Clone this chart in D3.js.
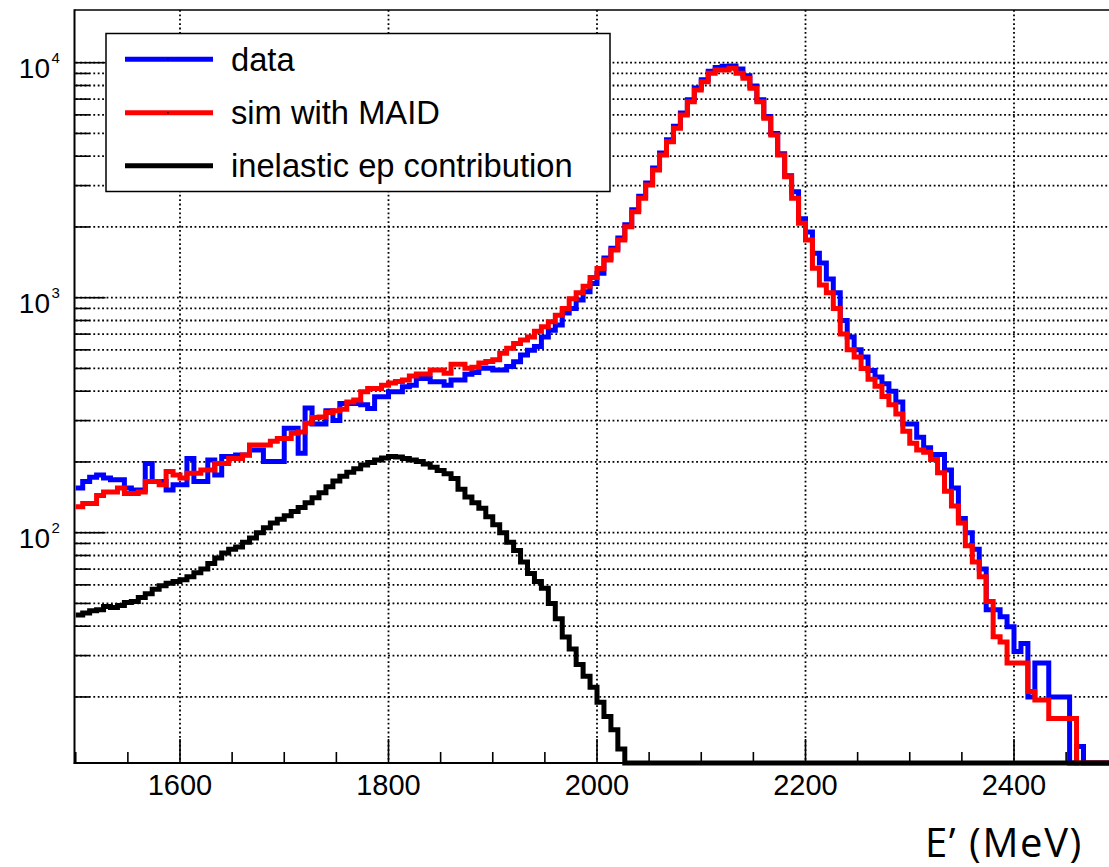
<!DOCTYPE html>
<html>
<head>
<meta charset="utf-8">
<script src="https://cdn.jsdelivr.net/npm/d3@7"></script>
<style>
  html, body { margin: 0; padding: 0; background: #fff; }
  svg { display: block; }
</style>
</head>
<body>
<svg id="chart" width="1109" height="867"></svg>
<script>
// ---------------- data ----------------
const xMin = 1500, xMax = 2500, nBins = 150;
const xTickValues = [1600, 1800, 2000, 2200, 2400];
const xTickLabels = ["1600", "1800", "2000", "2200", "2400"];
const yMajorTicks = [100, 1000, 10000];
const yMajorExponents = ["2", "3", "4"];
const legendLabels = ["data", "sim with MAID", "inelastic ep contribution"];
const xTitle = "E\u2019 (MeV)";

// blue: measured data (counts per bin)
const dataCounts = [
  155,165,172,176,171,168,168,155,152,152,
  197,165,165,152,160,160,207,165,165,204,
  176,211,211,214,214,225,225,201,201,201,
  278,278,218,339,290,290,330,300,355,355,
  355,350,338,379,379,398,398,418,424,453,
  453,439,439,424,446,446,472,480,501,501,
  493,493,510,534,570,598,620,680,727,765,
  860,900,978,1060,1150,1270,1475,1625,1795,2045,
  2370,2700,3080,3565,4130,4700,5360,6110,6960,7800,
  8470,9200,9550,9650,9680,9400,8800,7950,6950,5900,
  5000,4100,3300,2825,2170,1905,1546,1405,1200,1050,
  800,680,600,560,490,460,430,400,360,290,
  290,255,230,215,215,185,155,115,100,85,
  70,47,47,43.9,39.8,31.2,33.8,20,27.9,27.9,
  20,20,20,0,12.3,0,0,0,0,0
];
// red: simulation with MAID
const simCounts = [
  129,133,133,144,149,149,155,147,147,149,
  165,165,160,182,176,171,179,179,185,185,
  197,197,207,207,214,236,236,236,245,252,
  252,265,268,292,309,311,325,330,335,360,
  367,398,411,411,424,434,440,446,464,473,
  473,493,493,477,521,521,501,506,527,535,
  544,580,609,639,661,680,720,753,791,843,
  900,990,1050,1120,1220,1330,1447,1596,1760,2005,
  2323,2649,3017,3495,4048,4611,5259,5991,6823,7652,
  8301,9015,9310,9310,9467,9015,8582,7781,6823,5801,
  4925,4048,3272,2649,2073,1760,1334,1132,1050,900,
  700,600,560,500,450,420,380,350,320,270,
  240,225,220,205,180,150,130,110,88,75,
  65,50.9,36.1,34.3,27.9,27.9,27.9,21.1,19.4,19.4,
  16.2,16.2,16.2,16.2,0,0,0,0,0,0
];
// black: inelastic ep contribution
const inelCounts = [
  44.7,45.5,46.5,47,48.5,48,49,50.5,51,53,
  55,57.5,59.5,61,62,63,65,67.5,70,74,
  78,82,85,87,91,95,100,105,110,114,
  118,123,128,134,141,148,157,166,174,181,
  187,194,199,204,208,211,210,207,204,201,
  196,190,184,178,170,153,142,134,127,117,
  108,100,91,84,75,67,62,58,50,43,
  36,32,27.5,24.5,22,19,16.5,14.5,12,0,
  0,0,0,0,0,0,0,0,0,0,
  0,0,0,0,0,0,0,0,0,0,
  0,0,0,0,0,0,0,0,0,0,
  0,0,0,0,0,0,0,0,0,0,
  0,0,0,0,0,0,0,0,0,0,
  0,0,0,0,0,0,0,0,0,0,
  0,0,0,0,0,0,0,0,0,0
];
const seriesColors = ["#0000ff", "#ff0000", "#000000"];

// ---------------- layout ----------------
const svg = d3.select("#chart");
const frame = { left: 75.75, right: 1118.25, top: 10, bottom: 763 };
const yLogMin = 1.0200, yLogMax = 4.2243;

const x = d3.scaleLinear().domain([xMin, xMax]).range([frame.left, frame.right]);
const y = d3.scaleLog().domain([Math.pow(10, yLogMin), Math.pow(10, yLogMax)]).range([frame.bottom, frame.top]);
const yMin = Math.pow(10, yLogMin);
const binW = (xMax - xMin) / nBins;

const FONT = "'Liberation Sans', Arial, Helvetica, sans-serif";

// ---------------- grid ----------------
const gGrid = svg.append("g");
const yGridVals = [];
[10, 100, 1000].forEach(dec => { for (let k = 1; k <= 9; k++) { const v = dec * k; if (v > yMin && v < Math.pow(10, yLogMax)) yGridVals.push(v); } });
yGridVals.push(10000);
gGrid.selectAll("line.hg").data(yGridVals).enter().append("line")
  .attr("x1", frame.left).attr("x2", frame.right)
  .attr("y1", d => y(d)).attr("y2", d => y(d))
  .attr("stroke", "#000").attr("stroke-width", 1.8).attr("stroke-dasharray", "1.8 2.6");
gGrid.selectAll("line.vg").data(xTickValues).enter().append("line")
  .attr("x1", d => x(d)).attr("x2", d => x(d))
  .attr("y1", frame.top).attr("y2", frame.bottom)
  .attr("stroke", "#000").attr("stroke-width", 1.8).attr("stroke-dasharray", "1.8 2.6");

// ---------------- histograms ----------------
function histPoints(counts) {
  const pts = counts.map((c, i) => [xMin + i * binW, c > 0 ? Math.max(c, yMin) : yMin]);
  pts.push([xMax, pts[pts.length - 1][1]]);
  return pts;
}
const line = d3.line().x(d => x(d[0])).y(d => y(d[1])).curve(d3.curveStepAfter);
const gHist = svg.append("g");
[[dataCounts, 0], [simCounts, 1], [inelCounts, 2]].forEach(([arr, k]) => {
  gHist.append("path").attr("d", line(histPoints(arr)))
    .attr("fill", "none").attr("stroke", seriesColors[k]).attr("stroke-width", 5)
    .attr("stroke-linejoin", "miter").attr("stroke-linecap", "butt");
});

// ---------------- frame & axes ----------------
svg.append("line").attr("x1", frame.left - 1).attr("x2", 1109).attr("y1", frame.top).attr("y2", frame.top)
  .attr("stroke", "#000").attr("stroke-width", 1.5);

// x axis
const gx = svg.append("g");
gx.append("line").attr("x1", frame.left - 2).attr("x2", 1109).attr("y1", frame.bottom).attr("y2", frame.bottom)
  .attr("stroke", "#000").attr("stroke-width", 2);
const xMinor = d3.range(xMin, xMax + 1, 50);
gx.selectAll("line.xt").data(xMinor).enter().append("line")
  .attr("x1", d => x(d)).attr("x2", d => x(d))
  .attr("y1", frame.bottom).attr("y2", d => frame.bottom - (xTickValues.includes(d) ? 24 : 11))
  .attr("stroke", "#000").attr("stroke-width", 1.6);
gx.selectAll("text").data(xTickValues).enter().append("text")
  .attr("x", d => x(d)).attr("y", 794.5)
  .attr("text-anchor", "middle").attr("font-family", FONT).attr("font-size", 29)
  .text((d, i) => xTickLabels[i]);

// y axis
const gy = svg.append("g");
gy.append("line").attr("x1", 74.5).attr("x2", 74.5).attr("y1", frame.top - 0.75).attr("y2", frame.bottom + 1)
  .attr("stroke", "#000").attr("stroke-width", 2);
gy.selectAll("line.yt").data(yGridVals).enter().append("line")
  .attr("x1", 74.5).attr("x2", d => 74.5 + (yMajorTicks.includes(d) ? 31 : 15))
  .attr("y1", d => y(d)).attr("y2", d => y(d))
  .attr("stroke", "#000").attr("stroke-width", 1.6);
yMajorTicks.forEach((v, i) => {
  gy.append("text").attr("x", 50).attr("y", y(v) + 15.6)
    .attr("text-anchor", "end").attr("font-family", FONT).attr("font-size", 28).text("10");
  gy.append("text").attr("x", 51.5).attr("y", y(v) + 0.5)
    .attr("text-anchor", "start").attr("font-family", FONT).attr("font-size", 15).text(yMajorExponents[i]);
});

// ---------------- legend ----------------
const gL = svg.append("g");
gL.append("rect").attr("x", 106).attr("y", 33.5).attr("width", 504).attr("height", 158)
  .attr("fill", "#fff").attr("stroke", "#000").attr("stroke-width", 1.5);
const legY = [59.3, 112.7, 165.7];
legendLabels.forEach((lab, i) => {
  gL.append("line").attr("x1", 125).attr("x2", 213).attr("y1", legY[i]).attr("y2", legY[i])
    .attr("stroke", seriesColors[i]).attr("stroke-width", 5);
  if (i < 2) gL.append("rect").attr("x", 167).attr("y", legY[i] - 0.75).attr("width", 1.5).attr("height", 1.5).attr("fill", "#000");
  gL.append("text").attr("x", 231).attr("y", legY[i] + 11.7)
    .attr("font-family", FONT).attr("font-size", 32.7).text(lab);
});

// ---------------- axis title ----------------
svg.append("text").attr("x", 1083).attr("y", 856.5)
  .attr("text-anchor", "end").attr("font-family", "'Open Sans', 'Noto Sans', sans-serif").attr("font-size", 40)
  .attr("letter-spacing", 1.6)
  .text(xTitle);
</script>
</body>
</html>
